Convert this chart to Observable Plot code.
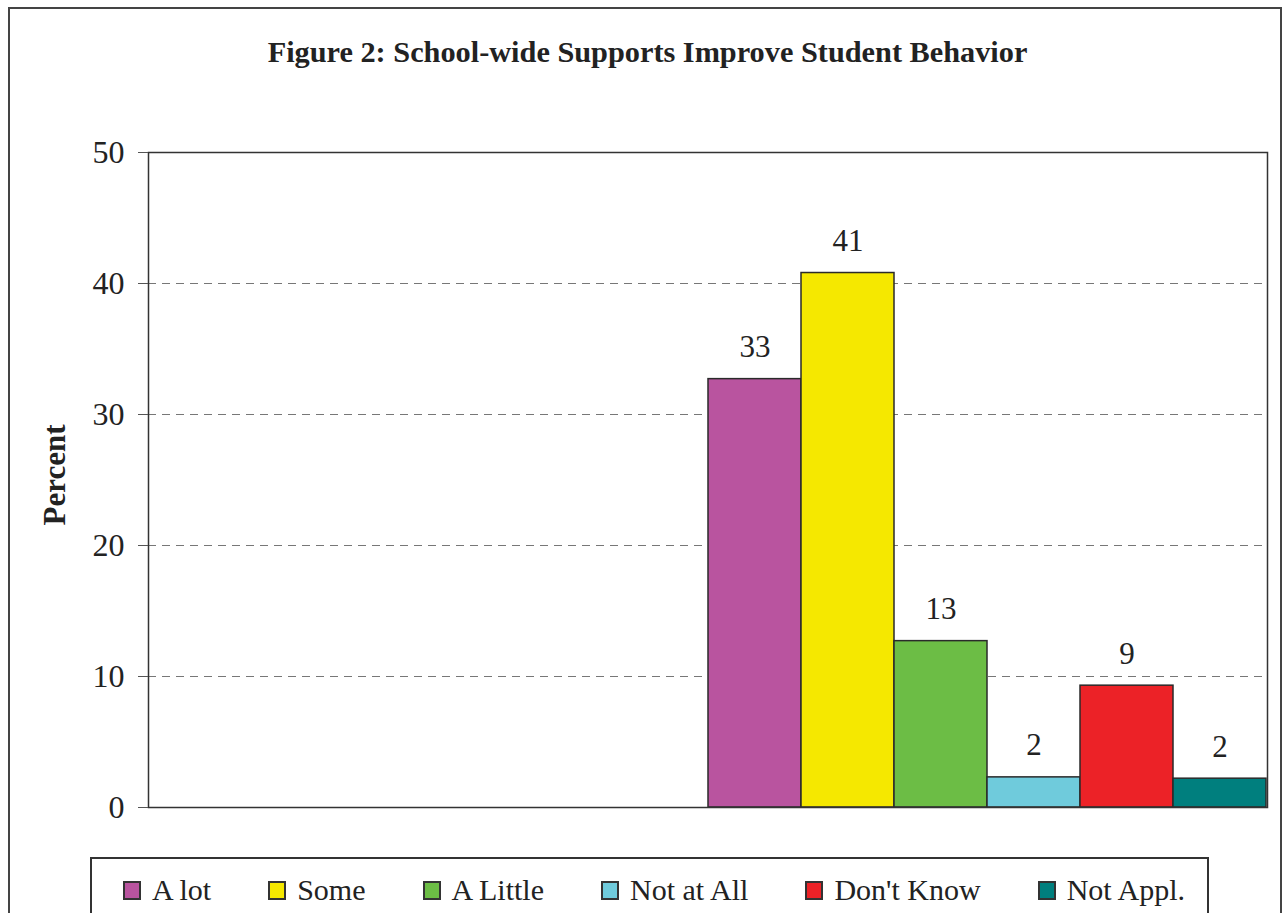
<!DOCTYPE html>
<html>
<head>
<meta charset="utf-8">
<script src="https://cdn.jsdelivr.net/npm/d3@7"></script>
<script src="https://cdn.jsdelivr.net/npm/@observablehq/plot@0.6"></script>
<style>
  html, body { margin: 0; padding: 0; background: #fff; }
  #wrap { position: relative; width: 1285px; height: 913px; overflow: hidden; font-family: "Liberation Serif", "Times New Roman", serif; color: #222; }
  #outer { position: absolute; left: 8px; top: 7px; width: 1274px; height: 1000px; border: 2px solid #444; box-sizing: border-box; }
  #title { position: absolute; left: 0; width: 1295px; top: 32px; text-align: center; font-weight: bold; font-size: 30.3px; line-height: 40px; }
  #chart { position: absolute; left: 0; top: 0; }
  #legend { position: absolute; left: 90px; top: 857px; width: 1119px; height: 100px; border: 2px solid #333; box-sizing: border-box; display: flex; align-items: flex-start; padding-left: 31px; padding-top: 14px; gap: 57px; font-size: 30px; }
  .item { display: flex; align-items: center; white-space: nowrap; }
  .sw { width: 14px; height: 15px; border: 2px solid #333; margin-right: 11px; }
</style>
</head>
<body>
<div id="wrap">
  <div id="outer"></div>
  <div id="title">Figure 2: School-wide Supports Improve Student Behavior</div>
  <div id="chart"></div>
  <div id="legend"></div>
</div>
<script>
const categories = ["A lot", "Some", "A Little", "Not at All", "Don't Know", "Not Appl."];
const values = [32.7, 40.8, 12.7, 2.3, 9.3, 2.2];
const valueLabels = ["33", "41", "13", "2", "9", "2"];
const colors = ["#b9549f", "#f5e800", "#6cbd45", "#6fcbdc", "#ec2227", "#007f7e"];
const emptySlots = [" 1", " 2", " 3", " 4", " 5", " 6"];
const yTicks = [0, 10, 20, 30, 40, 50];
const gridValues = [10, 20, 30, 40];

const data = categories.map((c, i) => ({category: c, value: values[i], label: valueLabels[i]}));

const chart = Plot.plot({
  width: 1285,
  height: 850,
  marginLeft: 148,
  marginRight: 18,
  marginTop: 152,
  marginBottom: 43,
  style: {fontFamily: "'Liberation Serif', 'Times New Roman', serif", color: "#222", background: "transparent"},
  x: {domain: [...emptySlots, ...categories], padding: 0, axis: null},
  y: {domain: [0, 50], ticks: yTicks},
  color: {domain: categories, range: colors},
  marks: [
    Plot.ruleY(gridValues, {stroke: "#777", strokeWidth: 1, strokeDasharray: "8,6"}),
    Plot.barY(data, {x: "category", y: "value", fill: "category", stroke: "#2a2a2a", strokeWidth: 1.5}),
    Plot.text(data, {x: "category", y: "value", text: "label", dy: -32, fontSize: 31, fill: "#222"}),
    Plot.frame({stroke: "#333", strokeWidth: 1.5}),
    Plot.axisY({ticks: yTicks, tickSize: 10, tickPadding: 14, fontSize: 32, label: null, stroke: "#555"}),
    Plot.text(["Percent"], {frameAnchor: "left", textAnchor: "middle", dx: -93, dy: -5, rotate: -90, fontSize: 31, fontWeight: "bold", fill: "#222"})
  ]
});
document.getElementById("chart").appendChild(chart);

const legend = document.getElementById("legend");
categories.forEach((c, i) => {
  const item = document.createElement("div");
  item.className = "item";
  const sw = document.createElement("div");
  sw.className = "sw";
  sw.style.background = colors[i];
  const t = document.createElement("span");
  t.textContent = c;
  item.appendChild(sw);
  item.appendChild(t);
  legend.appendChild(item);
});
</script>
</body>
</html>
